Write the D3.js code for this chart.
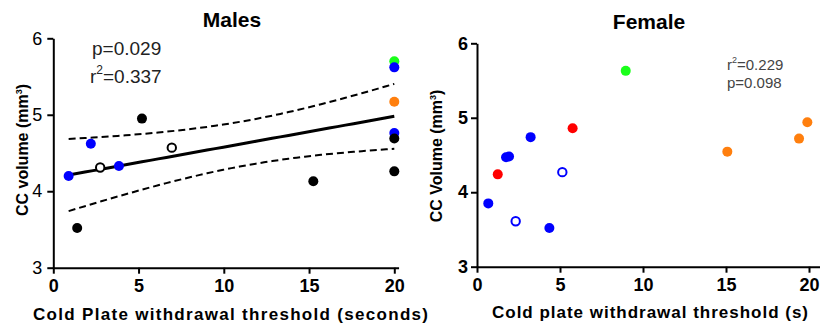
<!DOCTYPE html>
<html lang="en">
<head>
    <meta charset="UTF-8">
    <title>CC volume vs cold plate threshold</title>
    <script src="https://d3js.org/d3.v7.min.js"></script>
    <style>
        body { margin: 0; background: #fff; }
        svg text { font-family: Arial, 'Liberation Sans', sans-serif; }
        .axis text { font-size: 18px; font-weight: bold; fill: #000; }
        .axis.light text { font-weight: normal; }
        .axis path, .axis line { stroke: #000; stroke-width: 2px; }
    </style>
</head>
<body>
<script>
    // males: cold plate threshold (s), CC volume (mm3), marker type
    var maleX = [0.9, 2.2, 2.75, 3.85, 1.4, 5.2, 6.95, 15.25, 20, 20, 20, 20, 20, 20];
    var maleY = [4.2, 4.62, 4.31, 4.33, 3.52, 4.95, 4.57, 4.13, 5.70, 5.62, 5.17, 4.76, 4.69, 4.26];
    var maleType = ['blue', 'blue', 'openBlack', 'blue', 'black', 'black', 'openBlack', 'black',
                    'green', 'blue', 'orange', 'blue', 'black', 'black'];

    // females
    var femaleX = [0.68, 1.25, 1.75, 1.93, 2.33, 3.23, 4.36, 5.14, 5.76, 8.96, 15.08, 19.4, 19.9];
    var femaleY = [3.85, 4.24, 4.47, 4.48, 3.61, 4.74, 3.52, 4.27, 4.86, 5.63, 4.545, 4.72, 4.94];
    var femaleType = ['blue', 'red', 'blue', 'blue', 'openBlue', 'blue', 'blue', 'openBlue',
                      'red', 'green', 'orange', 'orange', 'orange'];

    var xTicks = [0, 5, 10, 15, 20];
    var yTicks = [3, 4, 5, 6];

    var colors = {
        blue: '#0000ff', black: '#000000', green: '#1aff1a', orange: '#ff7f0e', red: '#ff0000',
        openBlack: '#000000', openBlue: '#0000ff'
    };

    var width = 820, height = 329;

    var svg = d3.select('body').append('svg')
        .attr('width', width)
        .attr('height', height);

    function drawPanel(opt) {
        var x = d3.scaleLinear().domain(opt.xDomain).range(opt.xRange);
        var y = d3.scaleLinear().domain([3, 6]).range(opt.yRange);

        svg.append('g')
            .attr('class', 'axis')
            .attr('transform', 'translate(0,' + opt.yRange[0] + ')')
            .call(d3.axisBottom(x).tickValues(xTicks).tickFormat(d3.format('d'))
                .tickSize(6).tickSizeOuter(0).tickPadding(6));

        svg.append('g')
            .attr('class', opt.yLight ? 'axis light' : 'axis')
            .attr('transform', 'translate(' + opt.xRange[0] + ',0)')
            .call(d3.axisLeft(y).tickValues(yTicks).tickFormat(d3.format('d'))
                .tickSize(6).tickSizeOuter(0).tickPadding(opt.yPad));

        // title
        svg.append('text')
            .attr('x', opt.titleX)
            .attr('y', opt.titleY)
            .attr('text-anchor', 'middle')
            .style('font-size', '21px')
            .style('font-weight', 'bold')
            .text(opt.title);

        // y label
        var yl = svg.append('text')
            .attr('transform', 'translate(' + opt.yLabelX + ',' + opt.yLabelY + ') rotate(-90)')
            .attr('text-anchor', 'middle')
            .style('font-size', '16px')
            .style('font-weight', 'bold');
        yl.append('tspan').text(opt.yLabel);
        yl.append('tspan').attr('dy', -6).style('font-size', '9px').text('3');
        yl.append('tspan').attr('dy', 6).text(')');

        // x label
        svg.append('text')
            .attr('x', opt.xLabelX)
            .attr('y', opt.xLabelY)
            .attr('textLength', opt.xLabelW)
            .attr('lengthAdjust', 'spacing')
            .style('font-size', '17px')
            .style('font-weight', 'bold')
            .text(opt.xLabel);

        return {x: x, y: y};
    }

    function drawPoints(sc, xs, ys, types) {
        var pts = xs.map(function (d, i) { return {x: d, y: ys[i], t: types[i]}; });
        svg.append('g').selectAll('circle')
            .data(pts)
            .enter()
            .append('circle')
            .attr('cx', function (d) { return sc.x(d.x); })
            .attr('cy', function (d) { return sc.y(d.y); })
            .attr('r', function (d) { return d.t.indexOf('open') === 0 ? 4.2 : 5; })
            .attr('fill', function (d) { return d.t.indexOf('open') === 0 ? '#fff' : colors[d.t]; })
            .attr('stroke', function (d) { return d.t.indexOf('open') === 0 ? colors[d.t] : 'none'; })
            .attr('stroke-width', 2);
    }

    // ---- Males ----
    var m = drawPanel({
        xDomain: [0, 20.25], xRange: [53.3, 53.3 + 17.05 * 20.25],
        yRange: [267.7, 38.3], yLight: true, yPad: 5,
        title: 'Males', titleX: 232, titleY: 27,
        yLabel: 'CC volume (mm', yLabelX: 28, yLabelY: 150,
        xLabel: 'Cold Plate withdrawal threshold (seconds)', xLabelX: 33, xLabelY: 320, xLabelW: 395
    });

    // linear regression with 95% confidence band
    var n = maleX.length;
    var mx = d3.mean(maleX), my = d3.mean(maleY);
    var sxx = d3.sum(maleX, function (d) { return (d - mx) * (d - mx); });
    var sxy = d3.sum(maleX, function (d, i) { return (d - mx) * (maleY[i] - my); });
    var slope = sxy / sxx, icpt = my - slope * mx;
    var sse = d3.sum(maleX, function (d, i) { var r = maleY[i] - (icpt + slope * d); return r * r; });
    var s = Math.sqrt(sse / (n - 2));
    var tcrit = 2.179;
    var xmin = d3.min(maleX), xmax = d3.max(maleX);
    var grid = d3.range(0, 41).map(function (i) { return xmin + (xmax - xmin) * i / 40; });
    var fit = grid.map(function (xv) {
        var yh = icpt + slope * xv;
        var se = s * Math.sqrt(1 / n + (xv - mx) * (xv - mx) / sxx);
        return {x: xv, y: yh, lo: yh - tcrit * se, hi: yh + tcrit * se};
    });

    var lineFit = d3.line().x(function (d) { return m.x(d.x); }).y(function (d) { return m.y(d.y); });
    var lineHi = d3.line().x(function (d) { return m.x(d.x); }).y(function (d) { return m.y(d.hi); });
    var lineLo = d3.line().x(function (d) { return m.x(d.x); }).y(function (d) { return m.y(d.lo); });

    svg.append('path').attr('d', lineHi(fit)).attr('fill', 'none')
        .attr('stroke', '#000').attr('stroke-width', 2).attr('stroke-dasharray', '7 4');
    svg.append('path').attr('d', lineLo(fit)).attr('fill', 'none')
        .attr('stroke', '#000').attr('stroke-width', 2).attr('stroke-dasharray', '7 4');
    svg.append('path').attr('d', lineFit(fit)).attr('fill', 'none')
        .attr('stroke', '#000').attr('stroke-width', 3);

    drawPoints(m, maleX, maleY, maleType);

    svg.append('text').attr('x', 92).attr('y', 55)
        .style('font-size', '19px').style('fill', '#222').text('p=0.029');
    var r1 = svg.append('text').attr('x', 90).attr('y', 83)
        .style('font-size', '19px').style('fill', '#222');
    r1.append('tspan').text('r');
    r1.append('tspan').attr('dy', -9).style('font-size', '12px').text('2');
    r1.append('tspan').attr('dy', 9).text('=0.337');

    // ---- Female ----
    var f = drawPanel({
        xDomain: [0, 20.8], xRange: [477, 477 + 16.6 * 20.8],
        yRange: [266.7, 43.3], yLight: false, yPad: 3,
        title: 'Female', titleX: 649, titleY: 29,
        yLabel: 'CC Volume (mm', yLabelX: 442, yLabelY: 156,
        xLabel: 'Cold plate withdrawal threshold (s)', xLabelX: 492, xLabelY: 318, xLabelW: 316
    });

    drawPoints(f, femaleX, femaleY, femaleType);

    var r2 = svg.append('text').attr('x', 727).attr('y', 70)
        .style('font-size', '15px').style('fill', '#444');
    r2.append('tspan').text('r');
    r2.append('tspan').attr('dy', -7).style('font-size', '9px').text('2');
    r2.append('tspan').attr('dy', 7).text('=0.229');
    svg.append('text').attr('x', 727).attr('y', 88)
        .style('font-size', '15px').style('fill', '#444').text('p=0.098');
</script>
</body>
</html>
